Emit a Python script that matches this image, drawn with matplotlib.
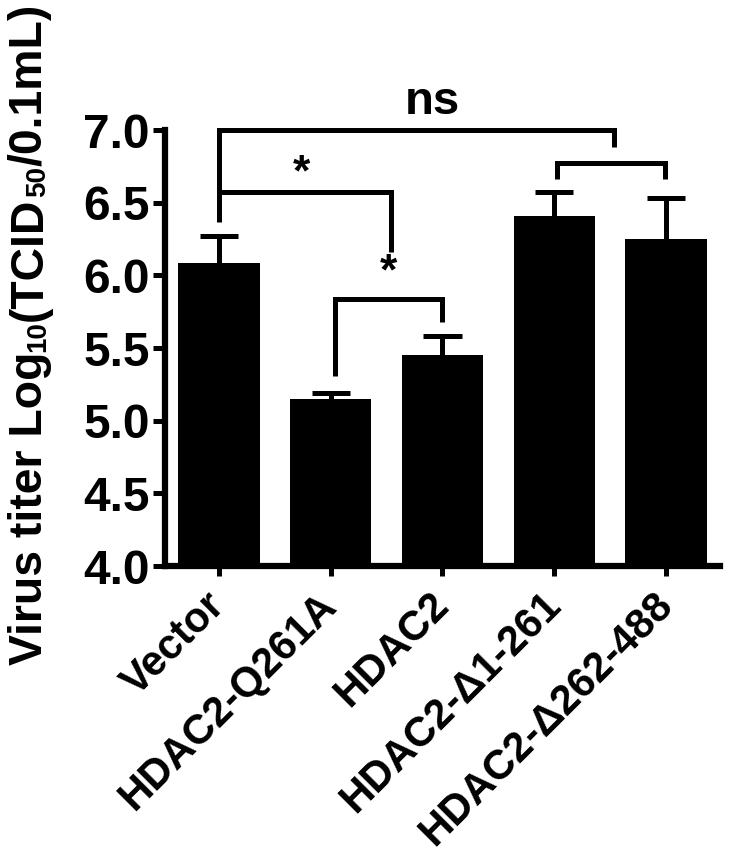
import matplotlib
matplotlib.use("Agg")
import matplotlib.pyplot as plt

plt.rcParams['font.family'] = ['Liberation Sans', 'DejaVu Sans']
plt.rcParams['font.weight'] = 'bold'

categories = ["Vector", "HDAC2-Q261A", "HDAC2", "HDAC2-\u03941-261", "HDAC2-\u0394262-488"]
means = [6.085, 5.15, 5.45, 6.41, 6.25]
sems = [0.185, 0.04, 0.13, 0.16, 0.28]
yticks = [4.0, 4.5, 5.0, 5.5, 6.0, 6.5, 7.0]
ylabel_parts = [("Virus titer Log", False), ("10", True), ("(TCID", False),
                ("50", True), ("/0.1mL)", False)]

W, H = 733, 852
fig = plt.figure(figsize=(W / 100, H / 100), dpi=100)
ax = fig.add_axes([165 / W, (H - 566) / H, (720 - 165) / W, (566 - 130) / H])

x = list(range(len(categories)))
tops = [m + s for m, s in zip(means, sems)]
lw = 3.6
ax.vlines(x, means, tops, color='black', lw=lw, zorder=1)
ax.hlines(tops, [i - 0.17 for i in x], [i + 0.17 for i in x], color='black', lw=lw, zorder=1)
ax.bar(x, means, width=0.73, color='black', edgecolor='black', linewidth=0, zorder=2)

ax.set_xlim(-0.48, 4.48)
ax.set_ylim(4.0, 7.0)
ax.set_yticks(yticks)
ax.set_yticklabels([f"{v:.1f}" for v in yticks], fontsize=34.5, fontweight='bold')
ax.set_xticks(x)
ax.set_xticklabels(categories, fontsize=30, fontweight='bold', rotation=45,
                   ha='right', va='center', rotation_mode='anchor')
ax.tick_params(axis='y', length=9, width=3.6, pad=2)
ax.tick_params(axis='x', length=7, width=3.6, pad=17)

for s in ['top', 'right']:
    ax.spines[s].set_visible(False)
for s in ['left', 'bottom']:
    ax.spines[s].set_linewidth(4.5)
    ax.spines[s].set_capstyle('projecting')

kw = dict(color='black', lw=lw, clip_on=False, solid_capstyle='butt', solid_joinstyle='miter')
ax.plot([0, 0, 3.535, 3.535], [6.37, 7.0, 7.0, 6.88], **kw)
ax.plot([3.02, 3.02, 3.99, 3.99], [6.66, 6.77, 6.77, 6.66], **kw)
ax.plot([0, 1.54, 1.54], [6.57, 6.57, 6.16], **kw)
ax.plot([1.04, 1.04, 2.0, 2.0], [5.31, 5.84, 5.84, 5.68], **kw)

ax.text(0.74, 6.70, "*", fontsize=32, fontweight='bold', ha='center', va='center')
ax.text(1.52, 6.02, "*", fontsize=32, fontweight='bold', ha='center', va='center')
ax.text(1.91, 7.19, "ns", fontsize=34, fontweight='bold', ha='center', va='center')

# y label assembled from pieces so subscripts can be small
renderer = fig.canvas.get_renderer()
x_base = 42.0          # px from left: baseline of rotated label
y_bottom = 665.0       # px from top: start of label
target = 662.0


def draw_label(F):
    arts = []
    y = H - y_bottom
    for txt, sub in ylabel_parts:
        fs = F * 0.6 if sub else F
        xo = x_base + (0.10 * F if sub else 0)
        t = fig.text(xo / W, y / H, txt, rotation=90, rotation_mode='anchor',
                     ha='left', va='baseline', fontsize=fs, fontweight='bold')
        bb = t.get_window_extent(renderer)
        y += bb.height
        arts.append(t)
    return arts, y - (H - y_bottom)


F = 33.0
arts, total = draw_label(F)
for a in arts:
    a.remove()
F = F * target / total
draw_label(F)

fig.savefig("out.png", dpi=100)
